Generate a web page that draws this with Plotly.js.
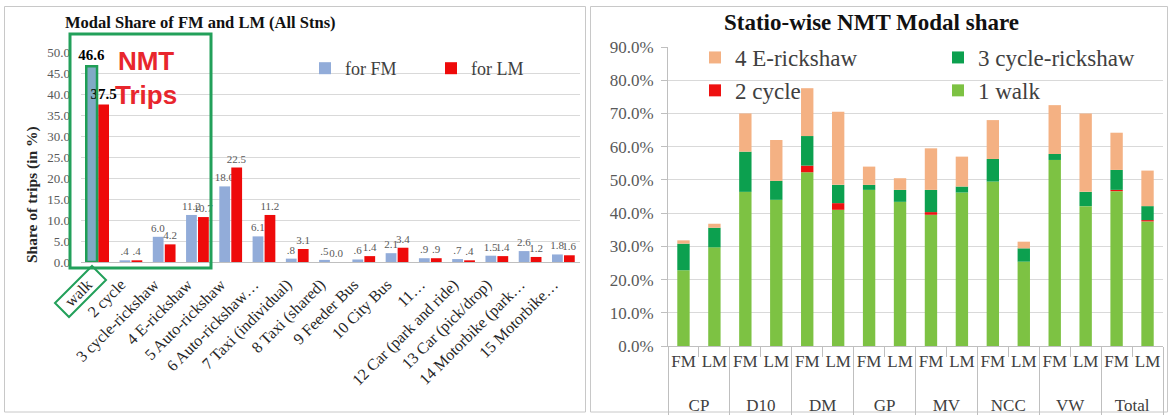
<!DOCTYPE html>
<html>
<head>
<meta charset="utf-8">
<script src="https://cdn.plot.ly/plotly-3.0.1.min.js"></script>
<style>
  html, body { margin: 0; padding: 0; background: #ffffff; }
  #chart { width: 1173px; height: 417px; }
</style>
</head>
<body>
<div id="chart"></div>
<script>
// ---- Left panel: modal share of first-mile (FM) and last-mile (LM) trips, all stations (%)
const modes = ['walk', '2 cycle', '3 cycle-rickshaw', '4 E-rickshaw', '5 Auto-rickshaw',
  '6 Auto-rickshaw…', '7 Taxi (individual)', '8 Taxi (shared)', '9 Feeder Bus', '10 City Bus',
  '11…', '12 Car (park and ride)', '13 Car (pick/drop)', '14 Motorbike (park…', '15 Motorbike…'];
const shareFM = [46.6, 0.4, 6.0, 11.2, 18.0, 6.1, 0.8, 0.5, 0.6, 2.1, 0.9, 0.7, 1.5, 2.6, 1.8];
const shareLM = [37.5, 0.4, 4.2, 10.7, 22.5, 11.2, 3.1, 0.0, 1.4, 3.4, 0.9, 0.4, 1.4, 1.2, 1.6];

// ---- Right panel: station-wise NMT modal share (%), FM and LM per station
const stations = ['CP', 'D10', 'DM', 'GP', 'MV', 'NCC', 'VW', 'Total'];
const legs = ['FM', 'LM'];
const walk          = [22.8, 29.7, 46.4, 44.0, 52.3, 41.0, 47.0, 43.4, 39.5, 46.2, 49.5, 25.4, 56.0, 42.1, 46.6, 37.5];
const cycle         = [0.0, 0.0, 0.0, 0.0, 2.0, 2.0, 0.0, 0.0, 0.8, 0.0, 0.0, 0.0, 0.0, 0.0, 0.4, 0.4];
const cycleRickshaw = [8.0, 5.9, 12.1, 5.7, 8.9, 5.5, 1.5, 3.6, 6.7, 1.8, 6.8, 4.0, 1.8, 4.3, 6.0, 4.2];
const eRickshaw     = [1.0, 1.2, 11.5, 12.3, 14.4, 22.0, 5.5, 3.5, 12.5, 9.0, 11.7, 2.0, 14.7, 23.6, 11.2, 10.7];

// ---- helpers
const W = 1173, H = 417;
const X = p => p / W;          // pixel -> paper (margins are zero)
const Y = p => 1 - p / H;
const SERIF = 'Liberation Serif, Times New Roman, serif';
const SANS = 'Liberation Sans, Arial, sans-serif';
const fmt = v => (v > 0 && v < 1) ? v.toFixed(1).slice(1) : v.toFixed(1);
const add = (a, b) => a.map((v, i) => v + b[i]);

const labelSizes = modes.map((_, i) => i === 0 ? 15 : 11);
const labelColors = modes.map((_, i) => i === 0 ? '#000000' : '#595959');
const labelText = arr => arr.map((v, i) => i === 0 ? '<b>' + fmt(v) + '</b>' : fmt(v));

const traces = [
  {
    type: 'bar', name: 'for FM', x: modes, y: shareFM, xaxis: 'x', yaxis: 'y', legend: 'legend',
    offsetgroup: 'fm', marker: { color: '#92acd9' },
    text: labelText(shareFM), textposition: 'outside', constraintext: 'none', cliponaxis: false,
    textfont: { family: SERIF, size: labelSizes, color: labelColors },
    hoverinfo: 'skip'
  },
  {
    type: 'bar', name: 'for LM', x: modes, y: shareLM, xaxis: 'x', yaxis: 'y', legend: 'legend',
    offsetgroup: 'lm', marker: { color: '#ee0a0a' },
    text: labelText(shareLM), textposition: 'outside', constraintext: 'none', cliponaxis: false,
    textfont: { family: SERIF, size: labelSizes, color: labelColors },
    hoverinfo: 'skip'
  },
  // green outline on the FM walk bar (highlighted NMT mode)
  {
    type: 'bar', x: [modes[0]], y: [shareFM[0]], xaxis: 'x', yaxis: 'y',
    offsetgroup: 'fm', showlegend: false, hoverinfo: 'skip',
    marker: { color: 'rgba(31,158,86,0.15)', line: { color: '#1f9e56', width: 2.5 } }
  }
];

// stacked NMT bars, drawn with explicit bases so they can share the figure with the grouped bars;
// the station row of the two-level axis is pushed down by one line
const xCat = [stations.flatMap(s => legs.map(() => '<br>' + s)), stations.flatMap(() => legs)];
const baseCycle = walk;
const baseCR = add(walk, cycle);
const baseER = add(baseCR, cycleRickshaw);
const stack = (name, y, base, color, legend) => ({
  type: 'bar', name: name, x: xCat, y: y, base: base, xaxis: 'x2', yaxis: 'y2',
  offsetgroup: 'nmt', width: 0.4, offset: -0.2, legend: legend,
  marker: { color: color }, hoverinfo: 'skip'
});
traces.push(stack('1 walk', walk, null, '#7dc243', 'legend3'));
traces.push(stack('2 cycle', cycle, baseCycle, '#ee1111', 'legend2'));
traces.push(stack('3 cycle-rickshaw', cycleRickshaw, baseCR, '#0ca04f', 'legend3'));
traces.push(stack('4 E-rickshaw', eRickshaw, baseER, '#f4b183', 'legend2'));

// rotated frame around the "walk" tick label
const walkBox = [[92, 266], [106, 280], [69, 317], [55, 303]];
const walkPath = 'M' + walkBox.map(p => X(p[0]) + ',' + Y(p[1])).join(' L') + ' Z';

const layout = {
  width: W, height: H,
  margin: { l: 0, r: 0, t: 0, b: 0 },
  paper_bgcolor: '#ffffff', plot_bgcolor: 'rgba(0,0,0,0)',
  barmode: 'group', bargap: 0.28, bargroupgap: 0.1,
  font: { family: SERIF, color: '#404040' },
  showlegend: true,
  xaxis: {
    domain: [X(81), X(580)], anchor: 'y', type: 'category',
    tickangle: -45, tickfont: { family: SERIF, size: 16, color: '#262626' },
    ticklabelshift: -10, ticklabelstandoff: 6,
    showline: true, linecolor: '#bfbfbf', linewidth: 1, ticks: '', showgrid: false,
    automargin: false, fixedrange: true
  },
  yaxis: {
    domain: [Y(262), Y(52)], anchor: 'x', range: [0, 50], dtick: 5, tickformat: '.1f',
    tickfont: { family: SERIF, size: 13, color: '#595959' },
    gridcolor: '#d9d9d9', gridwidth: 1, zeroline: false, showline: false,
    ticks: '', ticklabelstandoff: 10, automargin: false, fixedrange: true
  },
  xaxis2: {
    domain: [X(668), X(1163)], anchor: 'y2', type: 'multicategory',
    tickangle: 0, tickfont: { family: SERIF, size: 17, color: '#404040' },
    showline: true, linecolor: '#bfbfbf', linewidth: 1,
    ticks: 'outside', ticklen: 10, tickcolor: '#bfbfbf',
    showdividers: true, dividercolor: '#bfbfbf', dividerwidth: 1,
    showgrid: false, automargin: false, fixedrange: true
  },
  yaxis2: {
    domain: [Y(346), Y(47)], anchor: 'x2', range: [0, 90], dtick: 10,
    tickformat: '.1f', ticksuffix: '%',
    tickfont: { family: SERIF, size: 17, color: '#595959' },
    showline: true, linecolor: '#bfbfbf', ticks: 'outside', ticklen: 6, tickcolor: '#bfbfbf',
    ticklabelstandoff: 4,
    gridcolor: '#d9d9d9', zeroline: false, automargin: false, fixedrange: true
  },
  legend: {
    orientation: 'h', x: X(305), y: Y(50), xanchor: 'left', yanchor: 'top',
    entrywidth: 81, bgcolor: 'rgba(0,0,0,0)',
    font: { family: SERIF, size: 18, color: '#404040' }
  },
  legend2: {
    orientation: 'v', x: X(695), y: Y(36), xanchor: 'left', yanchor: 'top',
    traceorder: 'reversed', bgcolor: 'rgba(0,0,0,0)',
    font: { family: SERIF, size: 23, color: '#404040' }
  },
  legend3: {
    orientation: 'v', x: X(938), y: Y(36), xanchor: 'left', yanchor: 'top',
    traceorder: 'reversed', bgcolor: 'rgba(0,0,0,0)',
    font: { family: SERIF, size: 23, color: '#404040' }
  },
  annotations: [
    { text: '<b>Modal Share of FM and LM (All Stns)</b>', x: X(200), y: Y(22),
      xref: 'paper', yref: 'paper', xanchor: 'center', yanchor: 'middle', showarrow: false,
      font: { family: SERIF, size: 16.5, color: '#111111' } },
    { text: '<b>Statio-wise NMT Modal share</b>', x: X(871), y: Y(22),
      xref: 'paper', yref: 'paper', xanchor: 'center', yanchor: 'middle', showarrow: false,
      font: { family: SERIF, size: 23, color: '#111111' } },
    { text: '<b>Share of trips (in %)</b>', x: X(32), y: Y(195), textangle: -90,
      xref: 'paper', yref: 'paper', xanchor: 'center', yanchor: 'middle', showarrow: false,
      font: { family: SERIF, size: 15.5, color: '#262626' } },
    { text: '<b>NMT<br>Trips</b>', x: X(146), y: Y(78),
      xref: 'paper', yref: 'paper', xanchor: 'center', yanchor: 'middle', showarrow: false,
      align: 'center', font: { family: SANS, size: 26, color: '#e8262d' } }
  ],
  shapes: [
    { type: 'rect', xref: 'paper', yref: 'paper', x0: X(4.5), x1: X(585.5), y0: Y(412), y1: Y(6.5),
      line: { color: '#c8c8c8', width: 1 }, layer: 'below' },
    { type: 'rect', xref: 'paper', yref: 'paper', x0: X(590.5), x1: X(1167.5), y0: Y(412), y1: Y(6.5),
      line: { color: '#c8c8c8', width: 1 }, layer: 'below' },
    { type: 'rect', xref: 'paper', yref: 'paper', x0: X(70), x1: X(211), y0: Y(268), y1: Y(34),
      line: { color: '#22a05a', width: 3 } },
    { type: 'path', xref: 'paper', yref: 'paper', path: walkPath,
      line: { color: '#22a05a', width: 2 } }
  ]
};

Plotly.newPlot('chart', traces, layout, { displayModeBar: false, staticPlot: true });
</script>
</body>
</html>
